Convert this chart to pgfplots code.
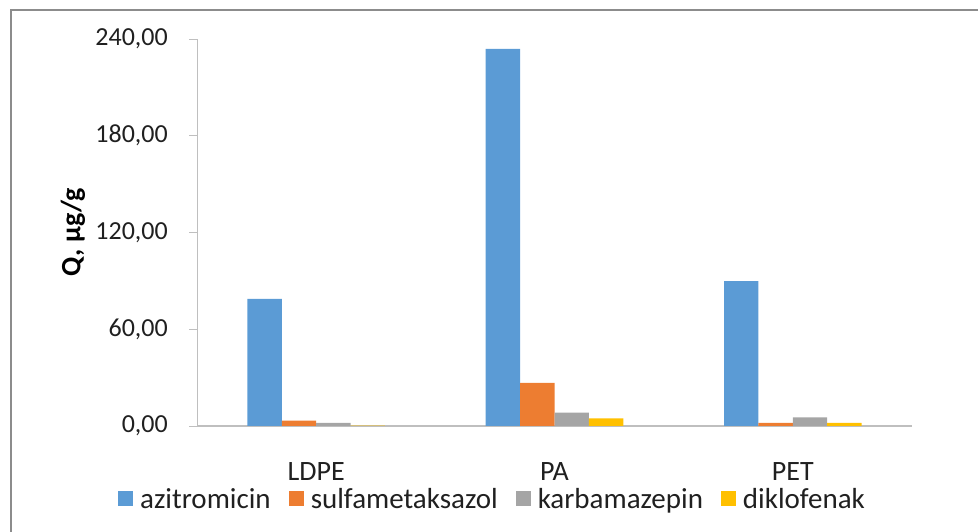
\documentclass[border=0pt]{standalone}
\usepackage{pgfplots}
\pgfplotsset{compat=1.18}
\usepackage{fontspec}
\setmainfont{Carlito}
\definecolor{cA}{HTML}{5B9BD5}
\definecolor{cB}{HTML}{ED7D31}
\definecolor{cC}{HTML}{A5A5A5}
\definecolor{cD}{HTML}{FFC000}
\definecolor{axgray}{HTML}{BFBFBF}
\definecolor{framegray}{HTML}{8C8C8C}
\definecolor{txt}{HTML}{202020}
\begin{document}
\begin{tikzpicture}[x=1pt,y=1pt]
\path[use as bounding box] (0,0) rectangle (978,532);
\draw[framegray, line width=1.2pt] (11,-10) -- (11,522) -- (990,522);
\begin{axis}[
  at={(197pt,106pt)}, anchor=south west,
  scale only axis, width=715pt, height=387pt,
  xmin=-0.5, xmax=2.5, ymin=0, ymax=240,
  ybar=0pt, bar width=0.1443,
  xtick={0,1,2}, xticklabels={LDPE,PA,PET},
  ytick={0,60,120,180,240},
  yticklabels={{0,00},{60,00},{120,00},{180,00},{240,00}},
  axis x line*=bottom, axis y line*=left,
  x axis line style={draw=axgray, line width=1.4pt},
  y axis line style={draw=axgray, line width=0.9pt},
  major x tick style={draw=none},
  major y tick style={draw=axgray, line width=0.9pt},
  ytick align=outside, major tick length=8pt,
  yticklabel style={font=\fontsize{26}{30}\selectfont, text=txt, inner sep=0pt, anchor=east, xshift=-21pt},
  xticklabel style={font=\fontsize{28}{32}\selectfont, text=txt, inner sep=0pt, anchor=base, yshift=-47pt},
  ylabel={\textbf{Q, µg/g}},
  ylabel style={font=\fontsize{28}{32}\selectfont, text=black, at={(axis description cs:-0.1734,0.5)}, rotate=0, anchor=center},
  legend columns=4,
  legend style={draw=none, fill=none, at={(axis description cs:0.414,-0.19)}, anchor=center,
    font=\fontsize{29}{33}\selectfont, text=txt,
    /tikz/every odd column/.append style={column sep=4pt},
    /tikz/every even column/.append style={column sep=15pt},
    nodes={inner sep=3pt}},
  legend image code/.code={\fill[#1,draw=none] (0pt,-6pt) rectangle (15pt,9pt);},
]
\addplot[fill=cA, draw=none] coordinates {(0,78.8) (1,233.8) (2,89.9)};
\addplot[fill=cB, draw=none] coordinates {(0,3.3) (1,26.7) (2,1.9)};
\addplot[fill=cC, draw=none] coordinates {(0,1.9) (1,8.3) (2,5.4)};
\addplot[fill=cD, draw=none] coordinates {(0,0.2) (1,4.8) (2,1.9)};
\legend{azitromicin,sulfametaksazol,karbamazepin,diklofenak}
\end{axis}
\end{tikzpicture}
\end{document}
